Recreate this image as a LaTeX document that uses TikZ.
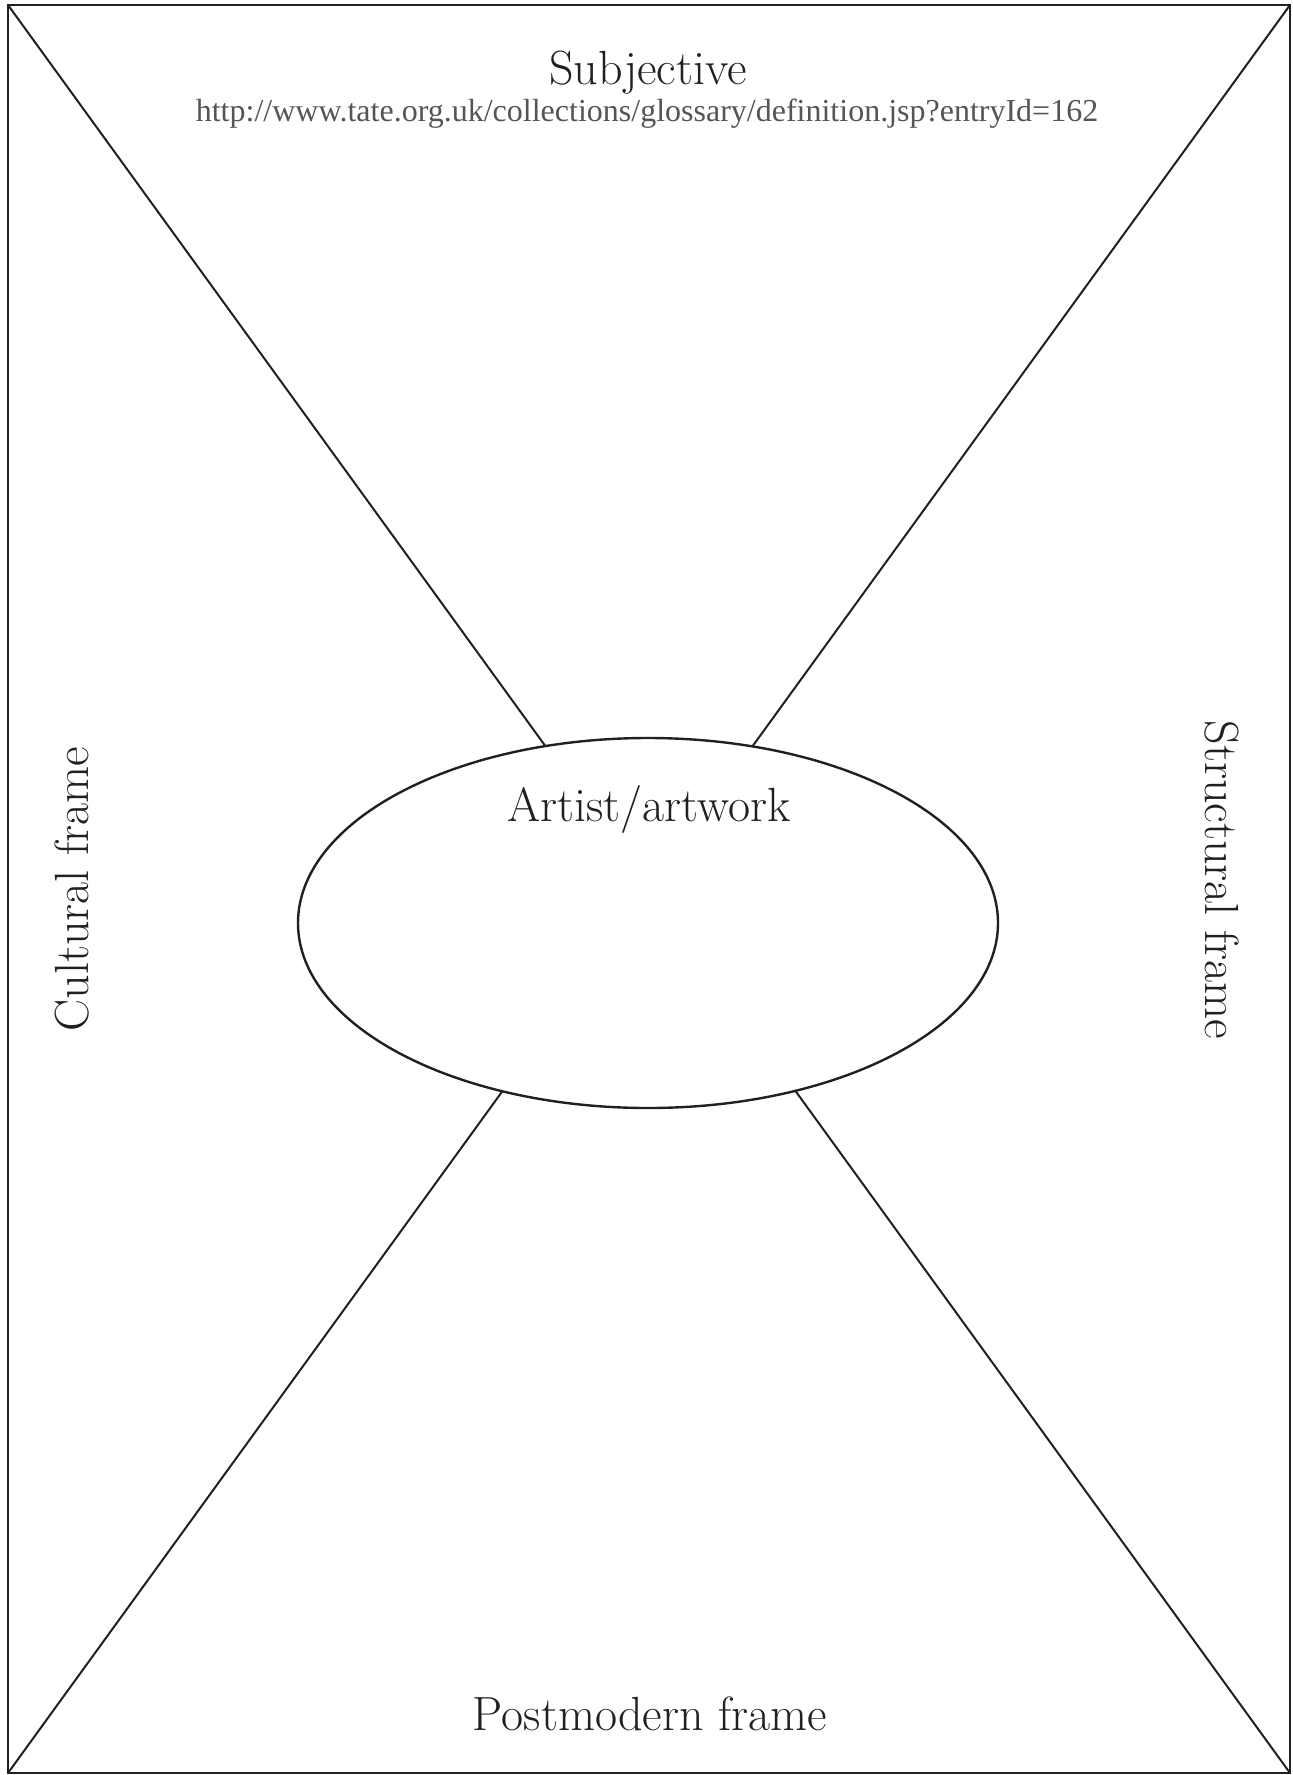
\documentclass[tikz,border=0pt]{standalone}
\usepackage{fontspec}
\newfontfamily\urlfont{Liberation Serif}
\usetikzlibrary{shapes.geometric}
\definecolor{inkblack}{RGB}{35,31,32}
\definecolor{urlgrey}{RGB}{85,85,85}
\tikzset{
	frameline/.style={draw=inkblack,line width=1.4pt},
	crossline/.style={draw=inkblack,line width=1pt},
	framelabel/.style={inner sep=0pt,anchor=base,text=inkblack,font=\fontsize{24}{28}\selectfont},
}
\begin{document}
\begin{tikzpicture}[x=0.5pt,y=0.5pt,yscale=-1,xscale=1]
		\useasboundingbox (0,0) rectangle (1292,1775);

		% corners of the frame
		\coordinate (tl) at (8,5);
		\coordinate (tr) at (1290,5);
		\coordinate (bl) at (8,1773);
		\coordinate (br) at (1290,1773);

		%Frame
		\draw [frameline] (tl) rectangle (br);
		%Diagonals
		\draw [crossline] (tl) -- (br);
		\draw [crossline] (tr) -- (bl);

		%Ellipse
		\node [ellipse,draw=inkblack,line width=1.2pt,fill=white,minimum width=350pt,minimum height=185pt] (art) at (648,923) {};

		% Text Node
		\node [framelabel] (subj) at (648,85) {Subjective};
		% Text Node
		\node [inner sep=0pt,anchor=base,text=urlgrey,font=\urlfont\fontsize{16}{19}\selectfont] (url) at (647,122) {http://www.tate.org.uk/collections/glossary/definition.jsp?entryId=162};
		% Text Node
		\node [framelabel] (artist) at (649,821) {Artist/artwork};
		% Text Node
		\node [framelabel,rotate=90] (cult) at (88,889) {Cultural frame};
		% Text Node
		\node [framelabel,rotate=-90] (struct) at (1205,880) {Structural frame};
		% Text Node
		\node [framelabel] (post) at (650,1730) {Postmodern frame};

	\end{tikzpicture}
\end{document}
